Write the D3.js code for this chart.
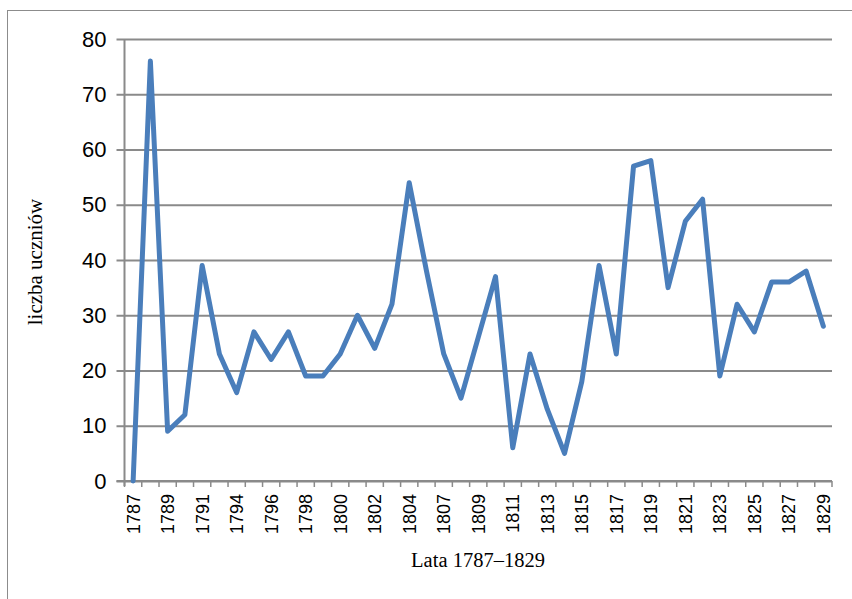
<!DOCTYPE html>
<html>
<head>
<meta charset="utf-8">
<script src="https://cdn.jsdelivr.net/npm/d3@7"></script>
<style>
  body { margin: 0; background: #fff; }
  svg { display: block; }
</style>
</head>
<body>
<div id="chart"></div>
<script>
var years = [
    1787, 1788, 1789, 1790, 1791, 1792,
    1794, 1795, 1796, 1797, 1798, 1799, 1800, 1801, 1802, 1803, 1804, 1805,
    1807, 1808, 1809, 1810, 1811, 1812, 1813, 1814, 1815, 1816, 1817, 1818,
    1819, 1820, 1821, 1822, 1823, 1824, 1825, 1826, 1827, 1828, 1829
];

var students = [
    0, 76, 9, 12, 39, 23,
    16, 27, 22, 27, 19, 19, 23, 30, 24, 32, 54, 38,
    23, 15, 26, 37, 6, 23, 13, 5, 18, 39, 23, 57,
    58, 35, 47, 51, 19, 32, 27, 36, 36, 38, 28
];

var yTicks = [0, 10, 20, 30, 40, 50, 60, 70, 80];

var width = 852, height = 599;
var plotLeft = 124.5, plotRight = 832, plotTop = 39, plotBottom = 481;

var svg = d3.select('#chart')
    .append('svg')
    .attr('width', width)
    .attr('height', height);

// outer frame
svg.append('rect')
    .attr('x', 7.5)
    .attr('y', 10.5)
    .attr('width', 860)
    .attr('height', 600)
    .attr('fill', 'none')
    .attr('stroke', '#8c8c8c')
    .attr('stroke-width', 1);

var x = d3.scaleBand()
    .domain(years)
    .range([plotLeft, plotRight])
    .padding(0);

var y = d3.scaleLinear()
    .domain([0, 80])
    .range([plotBottom, plotTop]);

// gridlines + y axis
var yAxis = d3.axisLeft(y)
    .tickValues(yTicks)
    .tickSize(-(plotRight - plotLeft))
    .tickPadding(18)
    .tickFormat(d3.format('d'));

var gy = svg.append('g')
    .attr('transform', 'translate(' + plotLeft + ',0)')
    .call(yAxis);

gy.select('.domain').remove();
gy.selectAll('.tick line')
    .attr('x1', -8)
    .attr('stroke', '#8a8a8a')
    .attr('stroke-width', 2);
gy.selectAll('.tick text')
    .attr('font-family', '"Liberation Sans", Arial, sans-serif')
    .attr('font-size', 22)
    .attr('fill', '#000');

svg.append('line')
    .attr('x1', plotLeft).attr('x2', plotLeft)
    .attr('y1', plotTop).attr('y2', plotBottom + 5)
    .attr('stroke', '#8a8a8a')
    .attr('stroke-width', 2);

// x axis, ticks between categories
var gx = svg.append('g')
    .attr('transform', 'translate(0,' + plotBottom + ')');

gx.append('line')
    .attr('x1', plotLeft - 8).attr('x2', plotRight)
    .attr('stroke', '#8a8a8a')
    .attr('stroke-width', 2);

var bounds = years.map(function(d) { return x(d); }).concat([plotRight]);
gx.selectAll('.xtick')
    .data(bounds)
    .enter()
    .append('line')
    .attr('class', 'xtick')
    .attr('x1', function(d) { return d; })
    .attr('x2', function(d) { return d; })
    .attr('y1', 0)
    .attr('y2', 6)
    .attr('stroke', '#8a8a8a')
    .attr('stroke-width', 1.5);

gx.selectAll('.xlabel')
    .data(years.filter(function(d, i) { return i % 2 === 0; }))
    .enter()
    .append('text')
    .attr('class', 'xlabel')
    .attr('transform', function(d) {
        return 'translate(' + (x(d) + x.bandwidth() / 2 + 6.5) + ',13) rotate(-90)';
    })
    .attr('text-anchor', 'end')
    .attr('font-family', '"Liberation Sans", Arial, sans-serif')
    .attr('font-size', 18)
    .attr('fill', '#000')
    .text(function(d) { return d; });

// line
var line = d3.line()
    .x(function(d, i) { return x(years[i]) + x.bandwidth() / 2; })
    .y(function(d) { return y(d); });

svg.append('path')
    .datum(students)
    .attr('d', line)
    .attr('fill', 'none')
    .attr('stroke', '#4a7ebb')
    .attr('stroke-width', 5)
    .attr('stroke-linejoin', 'round')
    .attr('stroke-linecap', 'round');

// titles
svg.append('text')
    .attr('x', 478)
    .attr('y', 567)
    .attr('text-anchor', 'middle')
    .attr('font-family', '"Liberation Serif", "Times New Roman", serif')
    .attr('font-size', 20.5)
    .attr('fill', '#000')
    .text('Lata 1787–1829');

svg.append('text')
    .attr('transform', 'translate(42,262) rotate(-90)')
    .attr('text-anchor', 'middle')
    .attr('font-family', '"Liberation Serif", "Times New Roman", serif')
    .attr('font-size', 21)
    .attr('fill', '#000')
    .text('liczba uczniów');
</script>
</body>
</html>
